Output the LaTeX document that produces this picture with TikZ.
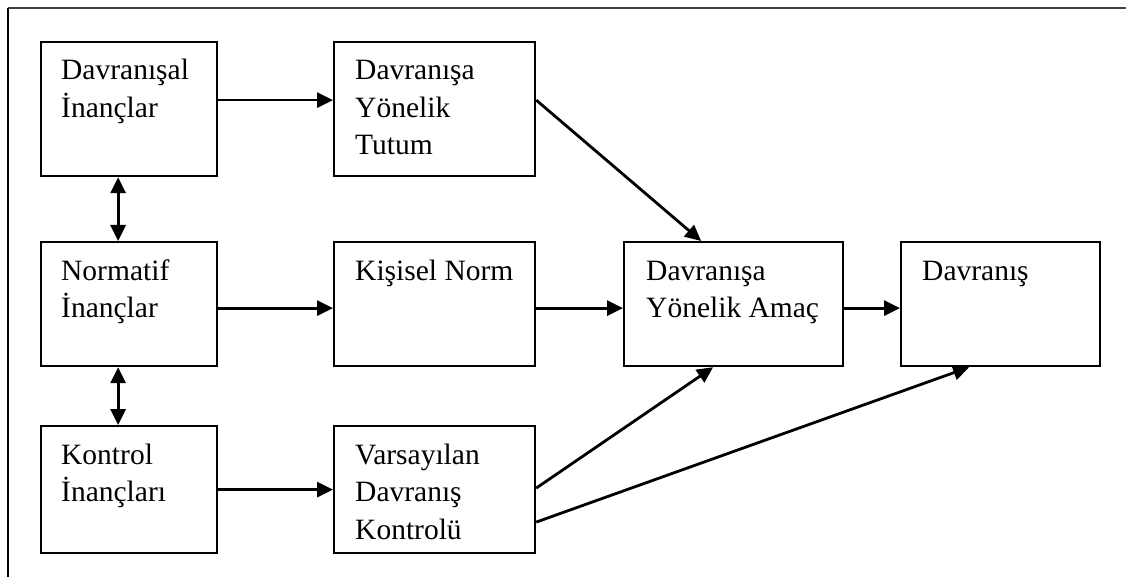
\documentclass[tikz,border=0pt]{standalone}
\usepackage{fontspec}
\setmainfont{Liberation Serif}
\usetikzlibrary{arrows.meta,calc}
\begin{document}
\begin{tikzpicture}[x=1pt,y=-1pt,
  box/.style={draw, line width=2.2pt, anchor=north west, inner sep=0pt},
  txt/.style={anchor=base west, inner sep=0pt, font=\fontsize{29.5}{37.5}\selectfont},
  arr/.style={line width=2.8pt, -{Triangle[length=16pt,width=15pt]}},
  darr/.style={line width=2.8pt, {Triangle[length=16pt,width=15pt]}-{Triangle[length=16pt,width=15pt]}}]
\useasboundingbox (0,0) rectangle (1126,577);
% outer frame (top and left edges only)
\draw[line width=2.2pt, black!75] (8,8) -- (1126,8);
\draw[line width=2.2pt] (8,8) -- (8,577);
% boxes
\node[box, minimum width=176pt, minimum height=134pt] (b1) at (40,41) {};
\node[box, minimum width=176pt, minimum height=124pt] (norm) at (40,241) {};
\node[box, minimum width=176pt, minimum height=127pt] (kont) at (40,425) {};
\node[box, minimum width=201pt, minimum height=134pt] (tutum) at (333,41) {};
\node[box, minimum width=201pt, minimum height=124pt] (kis) at (333,241) {};
\node[box, minimum width=201pt, minimum height=127pt] (var) at (333,425) {};
\node[box, minimum width=219pt, minimum height=124pt] (amac) at (623,241) {};
\node[box, minimum width=199pt, minimum height=124pt] (dav) at (900,241) {};
% texts
\node[txt] (t1) at ($(b1.north west)+(21,39)$) {\parbox[t]{160pt}{\raggedright Davranışal\\İnançlar}};
\node[txt] (t2) at ($(norm.north west)+(21,39)$) {\parbox[t]{160pt}{\raggedright Normatif\\İnançlar}};
\node[txt] (t3) at ($(kont.north west)+(21,39)$) {\parbox[t]{160pt}{\raggedright Kontrol\\İnançları}};
\node[txt] (t4) at ($(tutum.north west)+(22,39)$) {\parbox[t]{180pt}{\raggedright Davranışa\\Yönelik\\Tutum}};
\node[txt] (t5) at ($(kis.north west)+(22,39)$) {\parbox[t]{180pt}{\raggedright Kişisel Norm}};
\node[txt] (t6) at ($(var.north west)+(22,39)$) {\parbox[t]{180pt}{\raggedright Varsayılan\\Davranış\\Kontrolü}};
\node[txt] (t7) at ($(amac.north west)+(23,39)$) {\parbox[t]{200pt}{\raggedright Davranışa\\Yönelik Amaç}};
\node[txt] (t8) at ($(dav.north west)+(22,39)$) {\parbox[t]{170pt}{\raggedright Davranış}};
% connectors
\draw[arr] ([yshift=9pt]b1.east) -- ([yshift=9pt]tutum.west);
\draw[arr] ([yshift=-4pt]norm.east) -- ([yshift=-4pt]kis.west);
\draw[arr] ([yshift=-4pt]kis.east) -- ([yshift=-4pt]amac.west);
\draw[arr] ([yshift=-4pt]amac.east) -- ([yshift=-4pt]dav.west);
\draw[arr] (kont.east) -- (var.west);
\draw[arr] ([yshift=9pt]tutum.east) -- ([xshift=-32.5pt]amac.north);
\draw[arr] ([yshift=1.5pt]var.east) -- ([xshift=-20.5pt]amac.south);
\draw[arr] ([yshift=-32.5pt]var.east) -- ([xshift=-31.5pt]dav.south);
\draw[darr] ([xshift=-11pt]b1.south) -- ([xshift=-11pt]norm.north);
\draw[darr] ([xshift=-11pt]norm.south) -- ([xshift=-11pt]kont.north);
\end{tikzpicture}
\end{document}
